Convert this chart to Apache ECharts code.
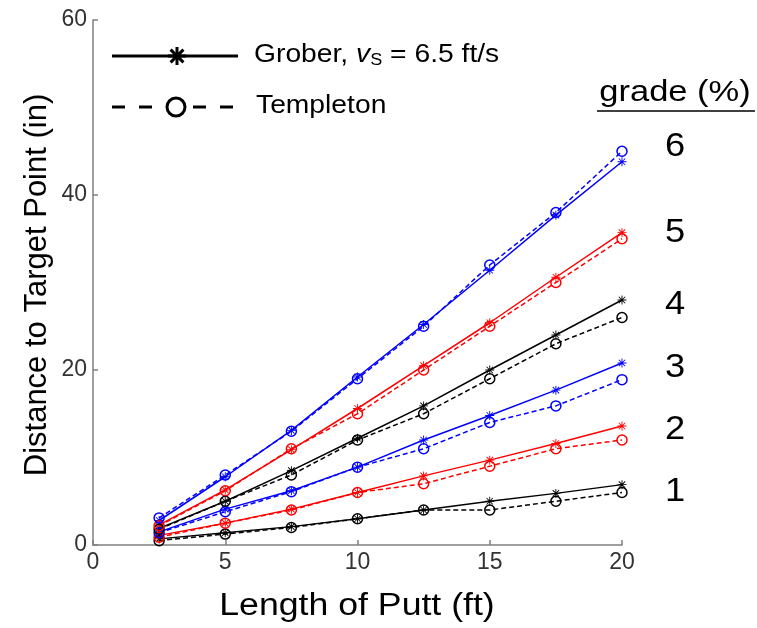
<!DOCTYPE html>
<html><head><meta charset="utf-8">
<script src="https://cdn.jsdelivr.net/npm/echarts@6/dist/echarts.min.js"></script>
<style>html,body{margin:0;padding:0;background:#fff}#c{width:757px;height:628px}</style>
</head><body><div id="c"></div>
<script>
const puttLengths = [2.5, 5, 7.5, 10, 12.5, 15, 17.5, 20];
const xTicks = [0, 5, 10, 15, 20];
const yTicks = [0, 20, 40, 60];
const grades = [1, 2, 3, 4, 5, 6];
const grober1 = [0.7, 1.4, 2.1, 3.0, 4.0, 5.0, 5.9, 6.9];
const templeton1 = [0.5, 1.25, 2.0, 3.0, 4.0, 4.0, 5.0, 6.0];
const grober2 = [1.1, 2.5, 4.1, 6.0, 7.9, 9.7, 11.6, 13.6];
const templeton2 = [0.9, 2.5, 4.0, 6.0, 7.0, 9.0, 11.0, 12.0];
const grober3 = [1.5, 4.1, 6.2, 8.9, 12.0, 14.8, 17.7, 20.8];
const templeton3 = [1.4, 3.8, 6.1, 8.9, 11.0, 14.0, 15.9, 18.9];
const grober4 = [1.9, 5.0, 8.5, 12.2, 15.9, 20.0, 24.0, 28.0];
const templeton4 = [1.8, 5.0, 8.0, 12.0, 15.0, 19.0, 23.0, 26.0];
const grober5 = [2.3, 6.3, 10.9, 15.6, 20.5, 25.4, 30.6, 35.7];
const templeton5 = [2.2, 6.2, 11.0, 15.0, 20.0, 25.0, 30.0, 35.0];
const grober6 = [2.8, 7.8, 13.1, 19.2, 25.2, 31.4, 37.7, 43.8];
const templeton6 = [3.1, 8.0, 13.0, 19.0, 25.0, 32.0, 38.0, 45.0];
const gradeColors = ['#000000', '#ff0000', '#0000ff', '#000000', '#ff0000', '#0000ff'];

const groberAll = [grober1, grober2, grober3, grober4, grober5, grober6];
const templetonAll = [templeton1, templeton2, templeton3, templeton4, templeton5, templeton6];

const starPath = 'path://M4.5 0L5.5 0L5.5 10L4.5 10Z M0 4.5L10 4.5L10 5.5L0 5.5Z M1.1 1.8L1.8 1.1L8.9 8.2L8.2 8.9Z M8.2 1.1L8.9 1.8L1.8 8.9L1.1 8.2Z';

const series = [];
grades.forEach((g, i) => {
  const col = gradeColors[i];
  series.push({
    name: 'Grober ' + g, type: 'line',
    data: puttLengths.map((x, k) => [x, groberAll[i][k]]),
    symbol: starPath, symbolSize: 9, showAllSymbol: true,
    lineStyle: {color: col, width: 1.5},
    itemStyle: {color: col},
    z: 3
  });
  series.push({
    name: 'Templeton ' + g, type: 'line',
    data: puttLengths.map((x, k) => [x, templetonAll[i][k]]),
    symbol: 'circle', symbolSize: 10, showAllSymbol: true,
    lineStyle: {color: col, width: 1.5, type: [5, 3]},
    itemStyle: {color: 'rgba(0,0,0,0)', borderColor: col, borderWidth: 1.5},
    z: 4
  });
});

const FONT = '"Liberation Sans", Arial, sans-serif';
const gradeY = [492, 430, 368, 305, 233, 147];
const graphics = [];
grades.forEach((g, i) => {
  graphics.push({type: 'text', x: 675, y: gradeY[i], scaleX: 1.1,
    style: {text: String(g), font: '33px ' + FONT, fill: '#000', textAlign: 'center', textVerticalAlign: 'middle'}});
});
graphics.push({type: 'text', x: 675, y: 93, scaleX: 1.15,
  style: {text: 'grade (%)', font: '30px ' + FONT, fill: '#000', textAlign: 'center', textVerticalAlign: 'middle'}});
graphics.push({type: 'line', shape: {x1: 597, y1: 111, x2: 755, y2: 111}, style: {stroke: '#000', lineWidth: 1.5}});
// legend
graphics.push({type: 'line', shape: {x1: 112, y1: 56, x2: 238, y2: 56}, style: {stroke: '#000', lineWidth: 3}});
[[0, 9], [9, 0], [6.4, 6.4], [6.4, -6.4]].forEach(d => {
  graphics.push({type: 'line', shape: {x1: 177 - d[0], y1: 56 - d[1], x2: 177 + d[0], y2: 56 + d[1]}, style: {stroke: '#000', lineWidth: 3}});
});
graphics.push({type: 'line', shape: {x1: 112, y1: 107, x2: 238, y2: 107}, style: {stroke: '#000', lineWidth: 3, lineDash: [13, 14]}});
graphics.push({type: 'circle', shape: {cx: 176, cy: 107, r: 9}, style: {fill: '#fff', stroke: '#000', lineWidth: 3}});
graphics.push({type: 'text', x: 254, y: 55, scaleX: 1.13,
  style: {rich: {n: {font: '25px ' + FONT, fill: '#000'}, v: {font: 'italic 25px ' + FONT, fill: '#000'}, s: {font: '16px ' + FONT, fill: '#000', padding: [11, 0, 0, 0]}},
    text: '{n|Grober, }{v|v}{s|S}{n| = 6.5 ft/s}', textVerticalAlign: 'middle'}});
graphics.push({type: 'text', x: 256, y: 106, scaleX: 1.13,
  style: {text: 'Templeton', font: '25px ' + FONT, fill: '#000', textVerticalAlign: 'middle'}});
// axis titles
graphics.push({type: 'text', x: 357, y: 606, scaleX: 1.15,
  style: {text: 'Length of Putt (ft)', font: '31px ' + FONT, fill: '#000', textAlign: 'center', textVerticalAlign: 'middle'}});
graphics.push({type: 'text', x: 37, y: 285, rotation: Math.PI / 2,
  style: {text: 'Distance to Target Point (in)', font: '31px ' + FONT, fill: '#000', textAlign: 'center', textVerticalAlign: 'middle'}});

const chart = echarts.init(document.getElementById('c'), null, {renderer: 'canvas'});
chart.setOption({
  animation: false,
  backgroundColor: '#fff',
  grid: {left: 93, right: 135, top: 20, bottom: 83, containLabel: false},
  xAxis: {
    type: 'value', min: xTicks[0], max: xTicks[xTicks.length - 1], interval: 5,
    axisLine: {show: true, lineStyle: {color: '#808080', width: 1.5}},
    axisTick: {show: true, inside: true, length: 5, lineStyle: {color: '#808080', width: 1.5}},
    axisLabel: {color: '#333', fontSize: 23, fontFamily: FONT, margin: 6},
    splitLine: {show: false}
  },
  yAxis: {
    type: 'value', min: yTicks[0], max: yTicks[yTicks.length - 1], interval: 20,
    axisLine: {show: true, lineStyle: {color: '#808080', width: 1.5}},
    axisTick: {show: true, inside: true, length: 5, lineStyle: {color: '#808080', width: 1.5}},
    axisLabel: {color: '#333', fontSize: 23, fontFamily: FONT, margin: 6},
    splitLine: {show: false}
  },
  series: series,
  graphic: graphics
});
</script></body></html>
